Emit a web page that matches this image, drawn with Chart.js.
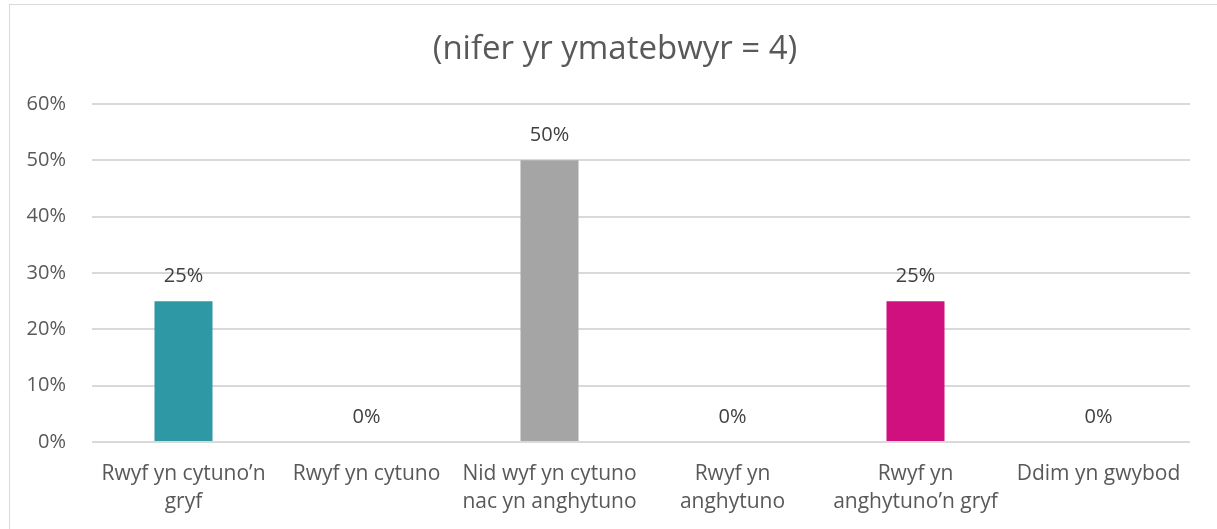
<!DOCTYPE html>
<html>
<head>
<meta charset="utf-8">
<script src="https://cdn.jsdelivr.net/npm/chart.js@4"></script>
<style>
    html, body { margin: 0; padding: 0; background: #ffffff; overflow: hidden; }
    #wrap { position: absolute; left: 0; top: 0; width: 1217px; height: 529px; }
    #frame { position: absolute; left: 9px; top: 4px; width: 1250px; height: 600px; border: 1px solid #d9d9d9; box-sizing: border-box; }
    canvas { position: absolute; left: 0; top: 0; }
</style>
</head>
<body>
<div id="wrap">
    <div id="frame"></div>
    <canvas id="surveyChart" width="1217" height="529"></canvas>
</div>
<script>
// Chart data
const chartTitle = '(nifer yr ymatebwyr = 4)';
const categories = [
    ['Rwyf yn cytuno\u2019n', 'gryf'],
    ['Rwyf yn cytuno'],
    ['Nid wyf yn cytuno', 'nac yn anghytuno'],
    ['Rwyf yn', 'anghytuno'],
    ['Rwyf yn', 'anghytuno\u2019n gryf'],
    ['Ddim yn gwybod']
];
const percentages = [25, 0, 50, 0, 25, 0];
const barColors = ['#2E99A5', '#2E99A5', '#A5A5A5', '#A5A5A5', '#D0107F', '#D0107F'];
const yTicks = [0, 10, 20, 30, 40, 50, 60];

const fontFamily = "'Open Sans', Lato, 'Liberation Sans', sans-serif";
const textColor = '#595959';
const gridColor = '#d9d9d9';

// Title and value labels drawn above bars
const labelPlugin = {
    id: 'barLabels',
    afterDatasetsDraw: function (chart) {
        const ctx = chart.ctx;
        const meta = chart.getDatasetMeta(0);
        ctx.save();
        ctx.font = '20px ' + fontFamily;
        ctx.fillStyle = '#404040';
        ctx.textAlign = 'center';
        ctx.textBaseline = 'middle';
        meta.data.forEach(function (bar, i) {
            ctx.fillText(percentages[i] + '%', bar.x, bar.y - 25);
        });
        ctx.font = '33px ' + fontFamily;
        ctx.fillStyle = textColor;
        ctx.fillText(chartTitle, (chart.chartArea.left + chart.chartArea.right) / 2 - 26, 50);
        ctx.restore();
    }
};

new Chart(document.getElementById('surveyChart'), {
    type: 'bar',
    data: {
        labels: categories,
        datasets: [{
            data: percentages,
            backgroundColor: barColors,
            borderWidth: 0,
            barPercentage: 0.317,
            categoryPercentage: 1
        }]
    },
    options: {
        responsive: false,
        animation: false,
        layout: {
            padding: { top: 104, left: 0, right: 27, bottom: 0 }
        },
        plugins: {
            legend: { display: false },
            tooltip: { enabled: false },
            title: { display: false }
        },
        scales: {
            x: {
                grid: { display: false },
                border: { display: false },
                ticks: {
                    color: textColor,
                    padding: 10,
                    maxRotation: 0,
                    autoSkip: false,
                    font: { size: 21, family: fontFamily, lineHeight: 1.34 }
                },
                afterFit: function (scale) { scale.height = 87; }
            },
            y: {
                min: 0,
                max: 60,
                afterBuildTicks: function (scale) {
                    scale.ticks = yTicks.map(v => ({ value: v }));
                },
                grid: { color: gridColor, lineWidth: 2, drawTicks: false },
                border: { display: false },
                ticks: {
                    color: textColor,
                    padding: 26,
                    font: { size: 20, family: fontFamily },
                    callback: function (value) { return value + '%'; }
                },
                afterFit: function (scale) { scale.width = 92; }
            }
        }
    },
    plugins: [labelPlugin]
});
</script>
</body>
</html>
